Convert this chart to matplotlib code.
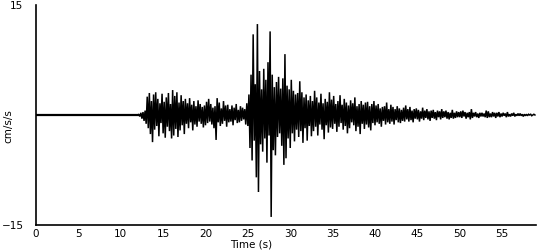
import numpy as np
import matplotlib
matplotlib.use("Agg")
import matplotlib.pyplot as plt

# sampling of the hand-read trace (seconds)
dt = 0.125
quiet_end = 12.0      # record is flat before this time
record_end = 59.0

# accelerations (cm/s/s), one value every dt seconds
onset_12_20 = [0, 0.1, -0.2, 0.3, -0.5, 0.4, -0.8, 0.6,
               -1.2, 2.5, -1.8, 3.0, -2.6, 1.9, -3.7, 2.8,
               -2.0, 3.1, -1.5, 2.2, -2.9, 1.6, -1.1, 2.9,
               -2.5, 1.8, -3.1, 2.4, -1.6, 3.0, -2.2, 1.5,
               -3.2, 3.4, -2.8, 2.6, -1.9, 3.1, -3.0, 1.7,
               -2.1, 2.7, -1.4, 1.9, -2.6, 2.2, -1.2, 1.6,
               -1.8, 2.3, -1.0, 1.4, -2.1, 1.9, -1.3, 1.2,
               -1.6, 2.0, -0.9, 1.5, -1.2, 1.1, -1.7, 1.3]
quiet_20_25 = [-1.4, 1.8, -1.1, 2.2, -0.9, 1.5, -1.3, 1.0,
               -1.8, 1.2, -3.4, 2.3, -1.0, 1.7, -1.5, 0.9,
               -1.2, 1.9, -0.8, 1.3, -1.6, 1.4, -1.0, 0.8,
               -0.9, 1.3, -1.4, 1.0, -0.7, 1.5, -1.1, 0.7,
               -1.0, 1.2, -0.8, 1.0, -0.6, 0.8, -1.3, 1.6]
strong_25_31 = [-1.5, 2.8, -4.5, 5.5, -6.2, 11.0, -3.5, 4.2,
                -8.5, 12.4, -10.5, 6.0, -4.0, 3.5, -5.0, 6.3,
                -3.2, 4.8, -6.5, 7.2, -2.8, 11.4, -13.9, 5.5,
                -4.8, 3.8, -5.5, 4.5, -3.0, 5.2, -2.5, 3.6,
                -4.2, 5.0, -6.8, 8.3, -5.9, 4.0, -3.2, 3.5,
                -4.5, 4.8, -2.5, 3.3, -3.6, 2.8, -2.0, 3.0]
coda_31_40 = [-3.0, 4.6, -2.2, 3.1, -3.8, 2.4, -1.8, 2.8,
              -3.5, 2.0, -1.5, 2.6, -2.9, 1.9, -2.2, 3.3,
              -1.6, 2.4, -2.8, 1.7, -1.3, 2.9, -2.0, 1.6,
              -3.3, 2.2, -1.4, 1.8, -2.4, 3.1, -1.7, 2.1,
              -1.9, 2.6, -1.2, 1.5, -2.3, 1.9, -1.6, 2.7,
              -1.1, 1.4, -2.0, 2.2, -1.5, 1.7, -2.5, 1.3,
              -1.8, 2.0, -1.0, 1.6, -1.4, 2.4, -2.2, 1.2,
              -1.6, 1.5, -2.6, 1.9, -1.2, 1.4, -1.9, 1.7,
              -1.3, 1.8, -1.7, 1.2, -2.1, 1.5, -1.1, 1.9]
coda_40_50 = [-1.4, 1.3, -1.0, 1.5, -1.2, 0.9, -1.6, 1.1,
              -0.8, 1.2, -1.3, 1.7, -1.0, 0.8, -1.2, 1.4,
              -0.9, 1.1, -1.3, 0.8, -0.7, 1.2, -1.0, 0.9,
              -1.1, 0.7, -0.8, 1.0, -0.9, 1.3, -0.6, 0.8,
              -0.9, 1.1, -0.7, 0.6, -1.0, 0.8, -0.5, 0.9,
              -0.6, 0.7, -0.9, 0.5, -0.5, 1.0, -0.7, 0.6,
              -0.4, 0.8, -0.6, 0.5, -0.8, 0.6, -0.4, 0.7,
              -0.5, 0.4, -0.7, 0.6, -0.3, 0.5, -0.6, 0.8,
              -0.4, 0.5, -0.3, 0.6, -0.5, 0.4, -0.6, 0.3,
              -0.4, 0.7, -0.5, 0.3, -0.4, 0.5, -0.3, 0.4]
coda_50_59 = [-0.3, 0.5, -0.4, 0.6, -0.2, 0.4, -0.5, 0.3,
              -0.3, 0.4, -0.6, 0.8, -0.4, 0.3, -0.2, 0.4,
              -0.3, 0.2, -0.4, 0.3, -0.2, 0.3, -0.2, 0.2,
              -0.3, 0.6, -0.4, 0.5, -0.3, 0.2, -0.3, 0.4,
              -0.2, 0.3, -0.4, 0.3, -0.2, 0.4, -0.3, 0.2,
              -0.2, 0.3, -0.1, 0.2, -0.3, 0.4, -0.2, 0.1,
              -0.2, 0.2, -0.1, 0.3, -0.2, 0.1, -0.1, 0.2,
              -0.1, 0.2, -0.1, 0.1, -0.2, 0.1, -0.1, 0.1,
              -0.1, 0.1, 0.0, 0.1, -0.1, 0.0, 0.1, 0.0]

x_ticks = [0, 5, 10, 15, 20, 25, 30, 35, 40, 45, 50, 55]
y_ticks = [-15, 15]

active = np.array(onset_12_20 + quiet_20_25 + strong_25_31 + coda_31_40
                  + coda_40_50 + coda_50_59, dtype=float)
t_active = quiet_end + dt * np.arange(len(active))
t = np.concatenate([[0.0], t_active])
acc = np.concatenate([[0.0], active])

fig = plt.figure(figsize=(5.5, 2.5), dpi=100)
ax = fig.add_axes([36 / 550, 1 - 225 / 250, 500 / 550, 220 / 250])
ax.plot(t, acc, color="black", lw=1.1, solid_joinstyle="miter")
ax.plot([0, quiet_end], [0, 0], color="black", lw=1.6)

ax.set_xlim(0, record_end)
ax.set_ylim(-15, 15)
ax.set_xticks(x_ticks)
ax.set_yticks(y_ticks)
ax.tick_params(length=0, labelsize=7.5, colors="black")
ax.tick_params(axis="y", pad=9)
ax.tick_params(axis="x", pad=3)
for s in ("top", "right"):
    ax.spines[s].set_visible(False)
for s in ("left", "bottom"):
    ax.spines[s].set_linewidth(1.2)
ax.set_xlabel("Time (s)", fontsize=7.5, labelpad=0)
ax.xaxis.set_label_coords(0.43, -0.068, transform=ax.transAxes)
ax.xaxis.label.set_verticalalignment("top")
ax.set_ylabel("cm/s/s", fontsize=7.5)
ax.yaxis.set_label_coords(-0.045, 0.45)

fig.savefig("out.png", dpi=100)
